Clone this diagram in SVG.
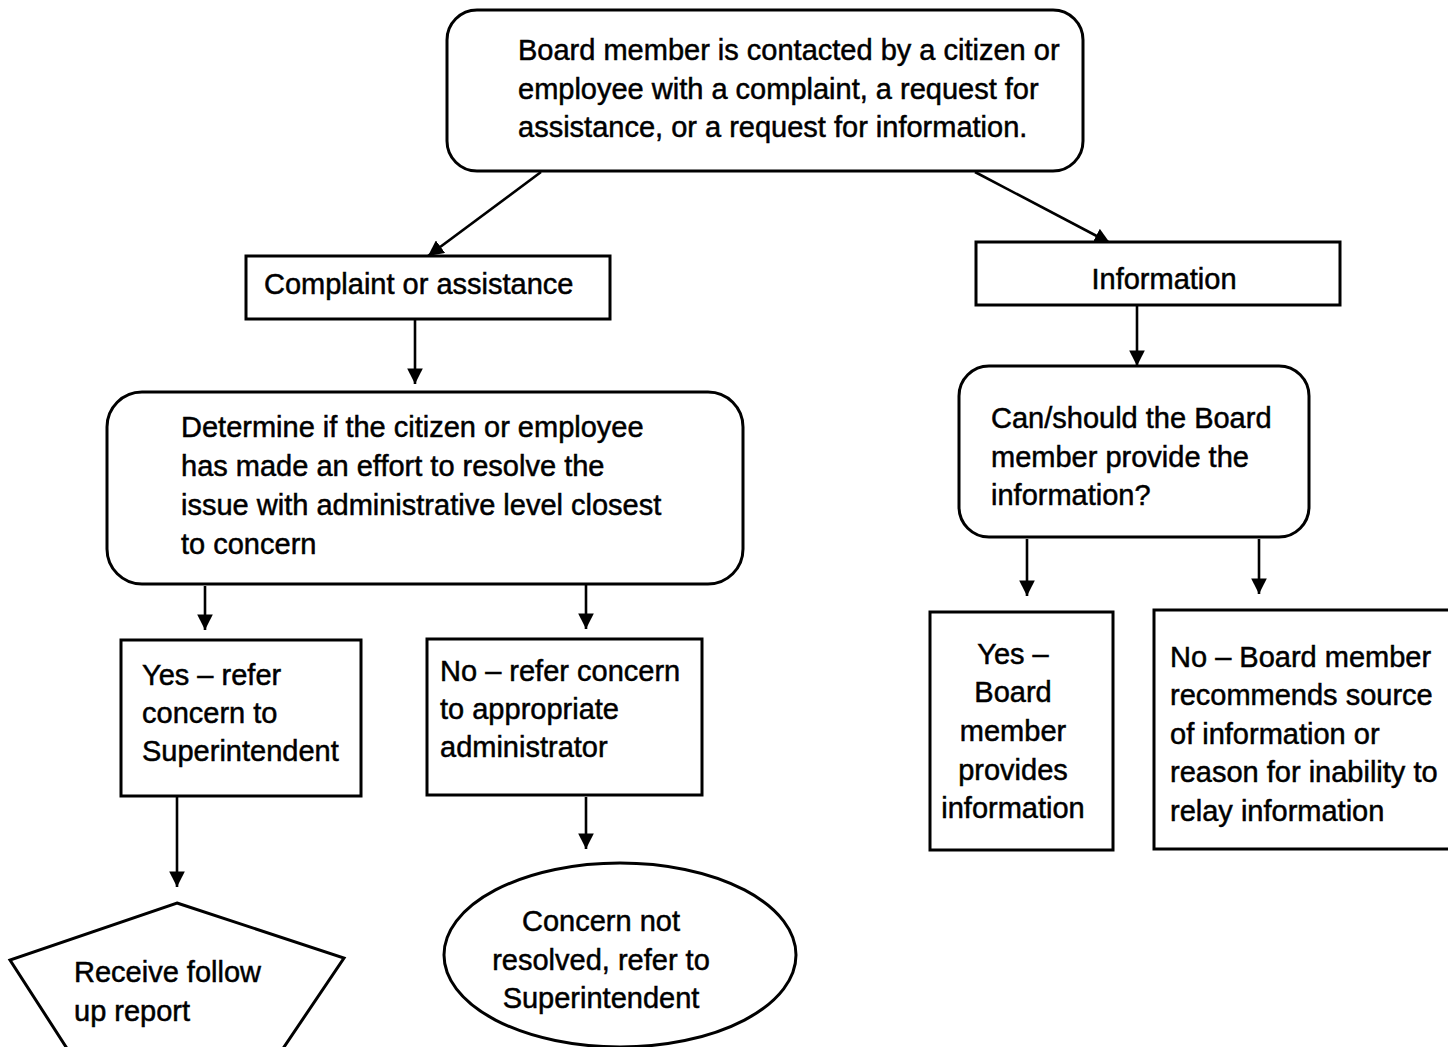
<svg xmlns="http://www.w3.org/2000/svg" width="1448" height="1047" viewBox="0 0 1448 1047">
<defs>
<marker id="ah" viewBox="0 0 10 10" refX="10" refY="5" markerWidth="6" markerHeight="6" orient="auto" markerUnits="strokeWidth">
<path d="M0,0 L10,5 L0,10 z" fill="#000"/>
</marker>
<style>
.n{fill:#fff;stroke:#000;stroke-width:3}
.t{font-family:"Liberation Sans",Arial,sans-serif;font-size:29px;fill:#000;stroke:#000;stroke-width:0.5}
.c{stroke:#000;stroke-width:2.6;fill:none;marker-end:url(#ah)}
.m{text-anchor:middle}
</style>
</defs>
<rect width="1448" height="1047" fill="#fff"/>
<g id="connectors">
<line class="c" x1="541" y1="172" x2="428" y2="256"/>
<line class="c" x1="975" y1="172" x2="1110" y2="243"/>
<line class="c" x1="415" y1="320" x2="415" y2="384"/>
<line class="c" x1="1137" y1="306" x2="1137" y2="366"/>
<line class="c" x1="205" y1="586" x2="205" y2="630"/>
<line class="c" x1="586" y1="585" x2="586" y2="629"/>
<line class="c" x1="1027" y1="539" x2="1027" y2="596"/>
<line class="c" x1="1259" y1="539" x2="1259" y2="594"/>
<line class="c" x1="177" y1="797" x2="177" y2="887"/>
<line class="c" x1="586" y1="797" x2="586" y2="849"/>
</g>
<g id="start">
<rect class="n" x="447" y="10" width="636" height="161" rx="30"/>
<text class="t" x="518" y="60">Board member is contacted by a citizen or</text>
<text class="t" x="518" y="99">employee with a complaint, a request for</text>
<text class="t" x="518" y="137">assistance, or a request for information.</text>
</g>
<g id="complaint">
<rect class="n" x="246" y="256" width="364" height="63"/>
<text class="t" x="264" y="294">Complaint or assistance</text>
</g>
<g id="information">
<rect class="n" x="976" y="242" width="364" height="63"/>
<text class="t m" x="1164" y="289">Information</text>
</g>
<g id="determine">
<rect class="n" x="107" y="392" width="636" height="192" rx="35"/>
<text class="t" x="181" y="437">Determine if the citizen or employee</text>
<text class="t" x="181" y="476">has made an effort to resolve the</text>
<text class="t" x="181" y="515">issue with administrative level closest</text>
<text class="t" x="181" y="554">to concern</text>
</g>
<g id="canshould">
<rect class="n" x="959" y="366" width="350" height="171" rx="30"/>
<text class="t" x="991" y="428">Can/should the Board</text>
<text class="t" x="991" y="467">member provide the</text>
<text class="t" x="991" y="505">information?</text>
</g>
<g id="yes-refer">
<rect class="n" x="121" y="640" width="240" height="156"/>
<text class="t" x="142" y="685">Yes – refer</text>
<text class="t" x="142" y="723">concern to</text>
<text class="t" x="142" y="761">Superintendent</text>
</g>
<g id="no-refer">
<rect class="n" x="427" y="639" width="275" height="156"/>
<text class="t" x="440" y="681">No – refer concern</text>
<text class="t" x="440" y="719">to appropriate</text>
<text class="t" x="440" y="757">administrator</text>
</g>
<g id="yes-board">
<rect class="n" x="930" y="612" width="183" height="238"/>
<text class="t m" x="1013" y="664">Yes –</text>
<text class="t m" x="1013" y="702">Board</text>
<text class="t m" x="1013" y="741">member</text>
<text class="t m" x="1013" y="780">provides</text>
<text class="t m" x="1013" y="818">information</text>
</g>
<g id="no-board">
<rect class="n" x="1154" y="610" width="300" height="239"/>
<text class="t" x="1170" y="667">No – Board member</text>
<text class="t" x="1170" y="705">recommends source</text>
<text class="t" x="1170" y="744">of information or</text>
<text class="t" x="1170" y="782">reason for inability to</text>
<text class="t" x="1170" y="821">relay information</text>
</g>
<g id="followup">
<polygon class="n" points="177,903 344,958 282,1050 68,1050 10,960"/>
<text class="t" x="74" y="982">Receive follow</text>
<text class="t" x="74" y="1021">up report</text>
</g>
<g id="notresolved">
<ellipse class="n" cx="620" cy="955" rx="176" ry="92"/>
<text class="t m" x="601" y="931">Concern not</text>
<text class="t m" x="601" y="970">resolved, refer to</text>
<text class="t m" x="601" y="1008">Superintendent</text>
</g>
</svg>
